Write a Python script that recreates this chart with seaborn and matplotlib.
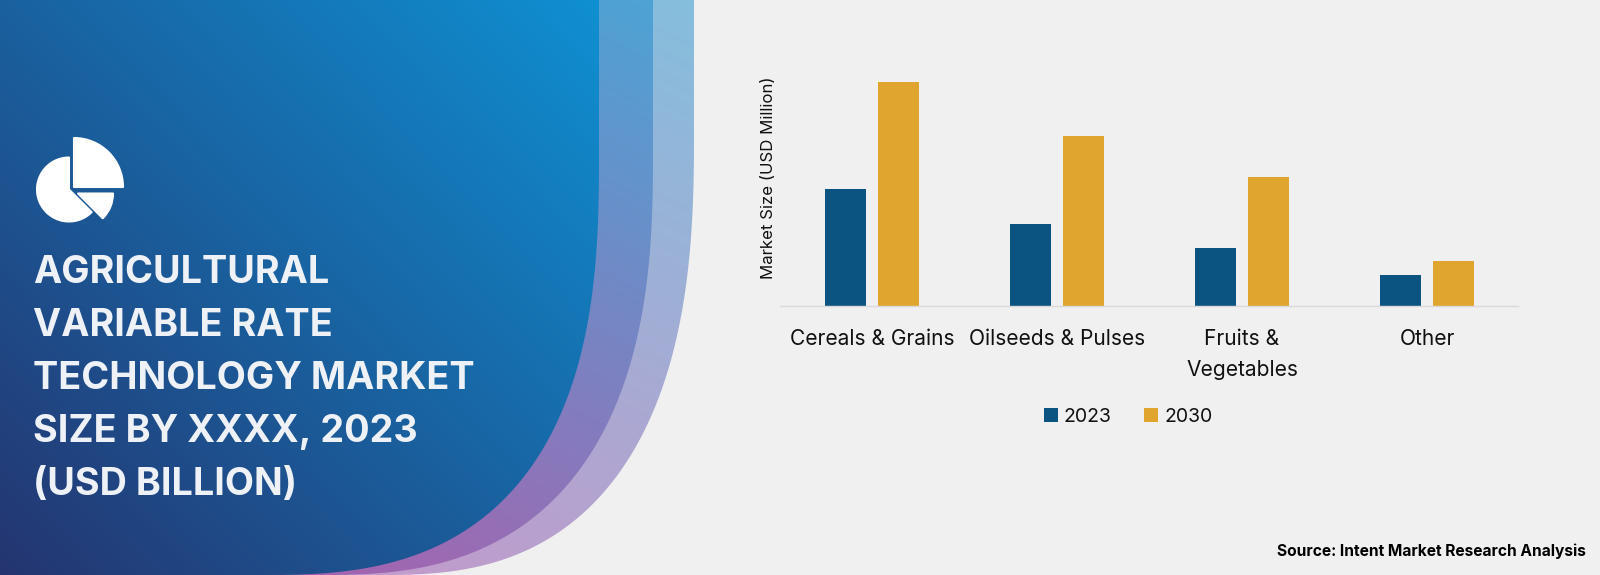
import numpy as np
import pandas as pd
import matplotlib.pyplot as plt
import seaborn as sns
from matplotlib.colors import to_rgb
from matplotlib.patches import PathPatch, Wedge
from matplotlib.path import Path

# Data (no axis values on the source, so heights are read off the picture)
categories = ["Cereals & Grains", "Oilseeds & Pulses", "Fruits &\nVegetables", "Other"]
values_2023 = [117, 82.5, 58, 31.5]
values_2030 = [224.5, 170, 129.5, 45]
years = ["2023", "2030"]
title_lines = ["AGRICULTURAL", "VARIABLE RATE", "TECHNOLOGY MARKET", "SIZE BY XXXX, 2023", "(USD BILLION)"]

df = pd.DataFrame({
    "Category": categories * 2,
    "Year": [years[0]] * 4 + [years[1]] * 4,
    "Value": values_2023 + values_2030,
})

sns.set_style("white")
plt.rcParams["font.family"] = ["Inter", "DejaVu Sans"]

W, H = 1600, 575
BG = "#F0F0F0"
fig = plt.figure(figsize=(16, 5.75), dpi=100, facecolor=BG)

# Background panel, in pixel coordinates
bg = fig.add_axes([0, 0, 1, 1], zorder=0)
bg.set_axis_off()


def panel(right, cx, cy, power, low, high, p0, p1):
    # right edge runs into a superellipse corner that ends on the bottom edge
    a = np.linspace(0, np.pi / 2, 200)
    xs = cx + (right - cx) * np.cos(a) ** (2 / power)
    ys = cy + (H - cy) * np.sin(a) ** (2 / power)
    verts = np.vstack([[(0, 0), (right, 0)], np.column_stack([xs, ys]), [(0, H), (0, 0)]])
    patch = PathPatch(Path(verts, closed=True), fc="none", ec="none", transform=bg.transData)
    bg.add_patch(patch)
    edge = right + 2
    xx, yy = np.meshgrid(np.arange(0, edge), np.arange(0, H + 1))
    dx, dy = p1[0] - p0[0], p1[1] - p0[1]
    t = ((xx - p0[0]) * dx + (yy - p0[1]) * dy) / (dx * dx + dy * dy)
    t = np.clip(t, 0, 1)[..., None]
    img = np.array(to_rgb(low)) * (1 - t) + np.array(to_rgb(high)) * t
    im = bg.imshow(img, extent=(0, edge, H, 0), aspect="auto", interpolation="bilinear")
    im.set_clip_path(patch)


panel(694, 380, 130, 2.6, "#C09CCC", "#85BEDD", (420, 575), (690, 0))
panel(653, 320, 150, 2.6, "#A365B0", "#4EA3D5", (350, 575), (650, 0))
panel(599, 260, 150, 2.7, "#243570", "#0F90D2", (0, 575), (600, 0))

# Pie icon, edge line gives the rounded corners
icon = dict(fc="white", ec="white", lw=1.5, joinstyle="round")
bg.add_patch(Wedge((74, 187), 49, 270, 360, **icon))
bg.add_patch(Wedge((69, 189.5), 32, 45, 270, **icon))
bg.add_patch(Wedge((78, 193.5), 35, 0, 45, **icon))

# Title block
for i, line in enumerate(title_lines):
    bg.text(33, 273 + i * 53, line, color="#EEF1F6", fontsize=27.2, fontweight="bold", va="center", ha="left")

bg.set_xlim(0, W)
bg.set_ylim(H, 0)

# Bar chart
ax = fig.add_axes([779.5 / W, 1 - 306 / H, 740 / W, 256 / H], zorder=1)
ax.patch.set_alpha(0)
sns.barplot(data=df, x="Category", y="Value", hue="Year", palette=["#0B5482", "#E0A52E"],
            width=0.573, gap=0.217, saturation=1, linewidth=0, ax=ax)
ax.set_xlim(-0.5, 3.5)
ax.set_ylim(0, 256)
ax.set_xlabel("")
ax.set_ylabel("Market Size (USD Million)", fontsize=12.1, color="#111111", labelpad=0)
ax.yaxis.set_label_coords((776 - 779.5) / 740, 0.5)
ax.set_yticks([])
ax.tick_params(axis="x", length=0, pad=16.5, labelsize=15.1, labelcolor="#111111")
for lab in ax.get_xticklabels():
    lab.set_linespacing(1.72)
    lab.set_va("top")
sns.despine(ax=ax, left=True)
ax.spines["bottom"].set_color("#D9D9D9")
ax.spines["bottom"].set_linewidth(1)
ax.spines["bottom"].set_bounds(-0.5, 3.49)

ax.legend(loc="center", bbox_to_anchor=((1128 - 779.5) / 740, (306 - 417) / 256), ncol=2, frameon=False,
          fontsize=14, handlelength=0.72, handleheight=0.72, handletextpad=0.3, columnspacing=1.7,
          labelcolor="#111111")

fig.text(1586 / W, 1 - 551 / H, "Source: Intent Market Research Analysis", ha="right", va="center",
         fontsize=11.2, fontweight="bold", color="#000000")

plt.savefig("out.png", dpi=100, facecolor=BG)
